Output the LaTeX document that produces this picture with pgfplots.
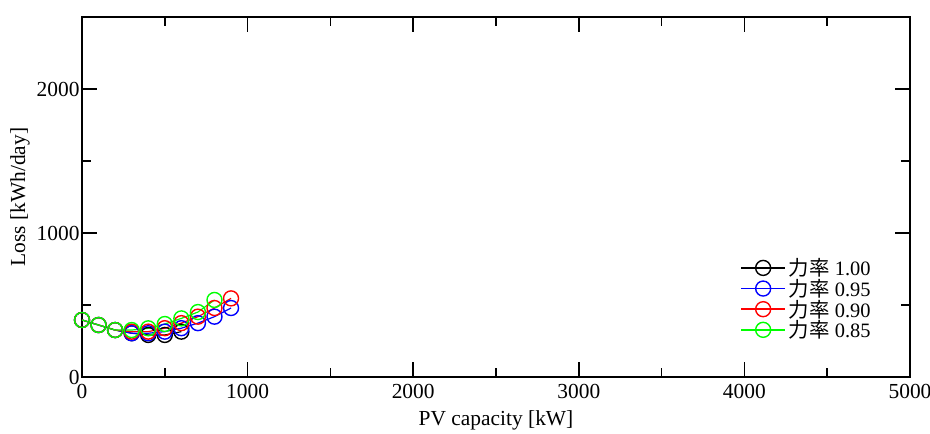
\documentclass[border=0pt]{standalone}
\usepackage{fontspec}
\setmainfont{Liberation Serif}
\newfontfamily\cjk{Noto Sans CJK JP}
\usepackage{pgfplots}
\pgfplotsset{compat=1.18}
\begin{document}
\begin{tikzpicture}
\useasboundingbox (-82bp,-57bp) rectangle (848bp,377bp);
\begin{axis}[
  at={(0,0)}, anchor=south west,
  scale only axis=true,
  width=828bp, height=360bp,
  xmin=0, xmax=5000, ymin=0, ymax=2500,
  xtick={0,1000,...,5000}, ytick={0,1000,2000},
  minor x tick num=1, minor y tick num=1,
  major tick length=15bp, minor tick length=9bp,
  tick style={line width=1.5bp, black},
  axis line style={line width=1.5bp},
  /pgf/number format/assume math mode=true,
  /pgf/number format/1000 sep={},
  font=\fontsize{21.5}{24}\selectfont,
  tick label style={font=\fontsize{21.5}{24}\selectfont},
  xticklabel style={yshift=-4bp},
  yticklabel style={xshift=1bp},
  xlabel={PV capacity [kW]}, ylabel={Loss [kWh/day]},
  xlabel style={at={(0.5,-0.085)},anchor=north},
  ylabel style={at={(-0.075,0.5)},anchor=center},
  legend style={draw=none, fill=none, at={(0.795,0.335)}, anchor=north west,
    font=\fontsize{20.5}{22}\selectfont, row sep=-2bp, inner sep=0pt,
    nodes={inner xsep=3bp}},
  legend cell align=left,
  legend image code/.code={\draw[line width=1.4bp, mark repeat=2,mark phase=2] plot coordinates {(0bp,0bp)(22bp,0bp)(44bp,0bp)};},
  every axis plot/.append style={line width=1.2bp, mark=o, mark size=7.5bp, mark options={line width=1.4bp}},
]
\addplot[black] coordinates {(0,396)(100,361)(200,326)(300,304)(400,292)(500,292)(600,315)};
\addlegendentry{{\cjk 力率} 1.00}
\addplot[blue] coordinates {(0,396)(100,361)(200,326)(300,304)(400,304)(500,315)(600,339)(700,374)(800,419)(900,479)};
\addlegendentry{{\cjk 力率} 0.95}
\addplot[red] coordinates {(0,396)(100,361)(200,326)(300,315)(400,315)(500,339)(600,374)(700,419)(800,479)(900,546)};
\addlegendentry{{\cjk 力率} 0.90}
\addplot[green] coordinates {(0,396)(100,361)(200,326)(300,326)(400,338)(500,368)(600,407)(700,451)(800,535)};
\addlegendentry{{\cjk 力率} 0.85}
\end{axis}
\end{tikzpicture}
\end{document}
